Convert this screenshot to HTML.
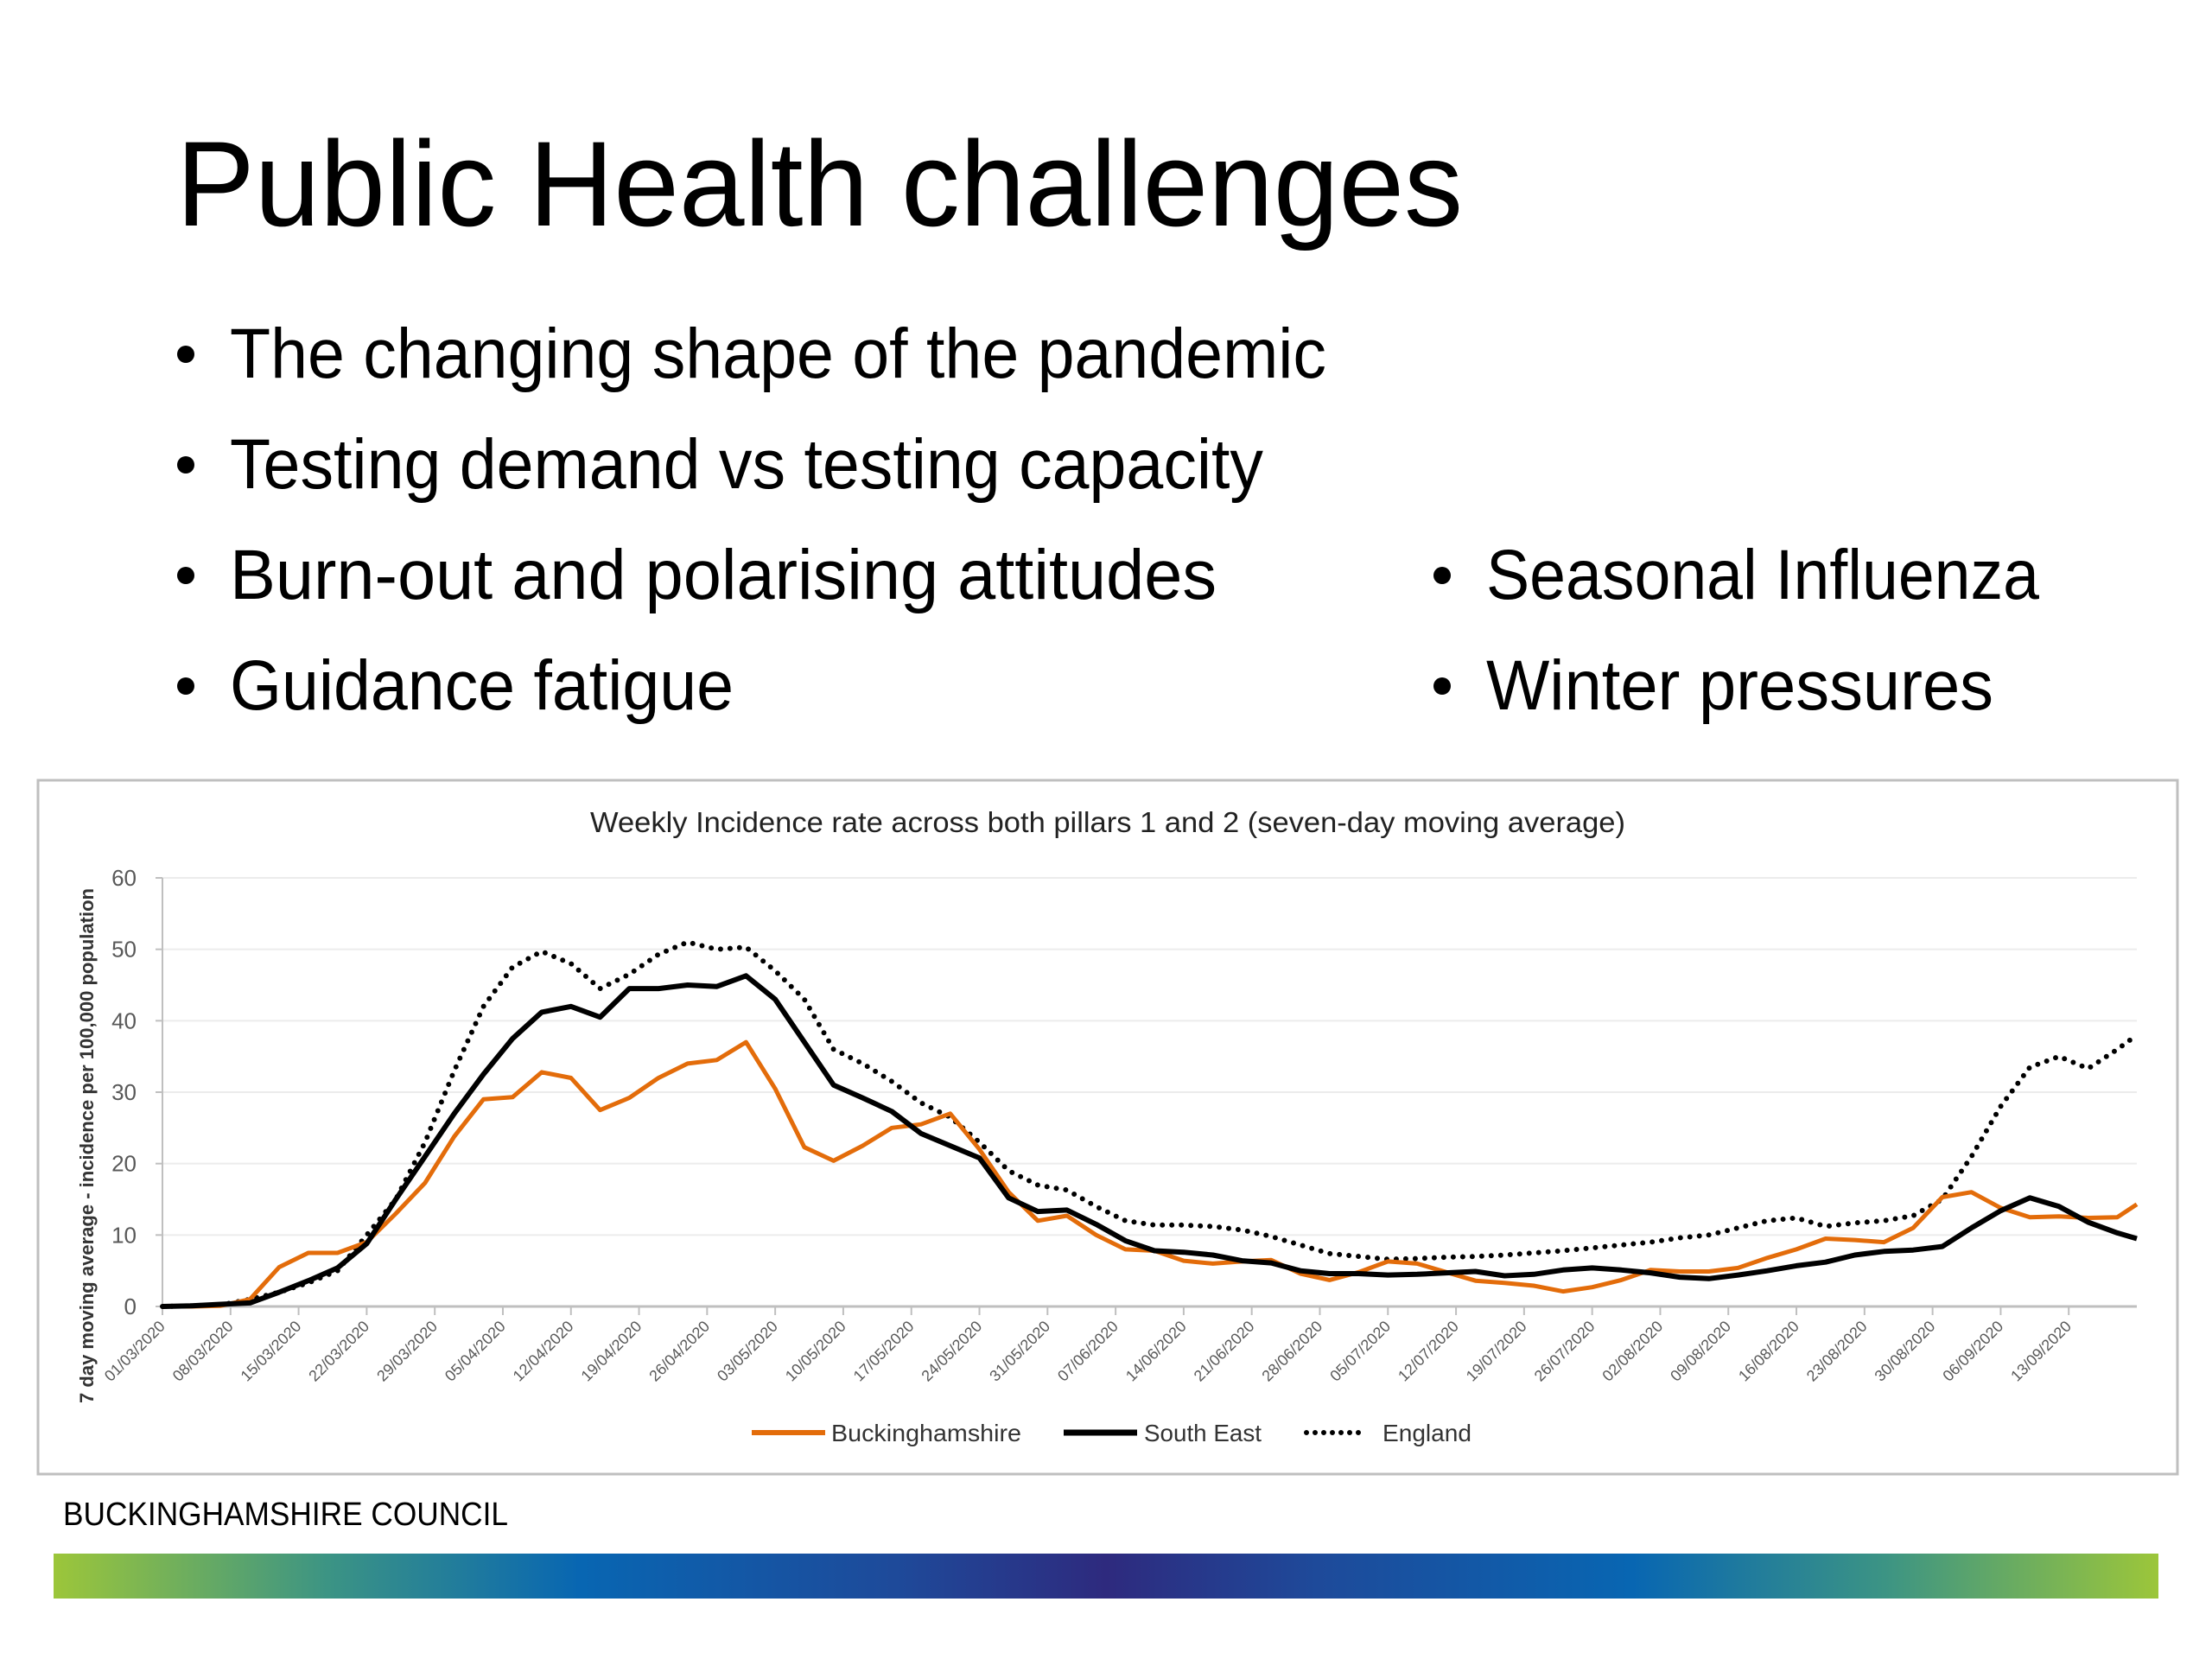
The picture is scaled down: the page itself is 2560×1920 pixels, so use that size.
<!DOCTYPE html>
<html><head><meta charset="utf-8"><title>Public Health challenges</title>
<style>html,body{margin:0;padding:0;background:#fff;}svg{display:block;}</style></head>
<body>
<svg id="slide" xmlns="http://www.w3.org/2000/svg" width="2560" height="1920" viewBox="0 0 2560 1920" font-family="'Liberation Sans', sans-serif">
<defs>
<linearGradient id="bar" x1="0" x2="1" y1="0" y2="0">
<stop offset="0" stop-color="#9cc63a"/><stop offset="0.13" stop-color="#3c9484"/><stop offset="0.25" stop-color="#0866b2"/><stop offset="0.4" stop-color="#1e4a9a"/><stop offset="0.5" stop-color="#2e2a7e"/><stop offset="0.6" stop-color="#1e4a9a"/><stop offset="0.75" stop-color="#0866b2"/><stop offset="0.87" stop-color="#3c9484"/><stop offset="1" stop-color="#9cc63a"/>
</linearGradient>
</defs>
<rect width="2560" height="1920" fill="#fff"/>
<text x="204" y="261" font-size="140" fill="#000" textLength="1489" lengthAdjust="spacingAndGlyphs">Public Health challenges</text>
<g font-size="82" fill="#000">
<circle cx="215" cy="410" r="10"/>
<text x="266" y="437" textLength="1269" lengthAdjust="spacingAndGlyphs">The changing shape of the pandemic</text>
<circle cx="215" cy="538" r="10"/>
<text x="266" y="565" textLength="1196" lengthAdjust="spacingAndGlyphs">Testing demand vs testing capacity</text>
<circle cx="215" cy="666" r="10"/>
<text x="266" y="693" textLength="1142" lengthAdjust="spacingAndGlyphs">Burn-out and polarising attitudes</text>
<circle cx="215" cy="794" r="10"/>
<text x="266" y="821" textLength="583" lengthAdjust="spacingAndGlyphs">Guidance fatigue</text>
</g>
<g font-size="82" fill="#000">
<circle cx="1669" cy="666" r="10"/>
<text x="1720" y="693" textLength="640" lengthAdjust="spacingAndGlyphs">Seasonal Influenza</text>
<circle cx="1669" cy="794" r="10"/>
<text x="1720" y="821" textLength="587" lengthAdjust="spacingAndGlyphs">Winter pressures</text>
</g>
<rect x="44" y="903" width="2476" height="803" fill="#fff" stroke="#bfbfbf" stroke-width="3"/>
<text x="683" y="963" font-size="33" fill="#222" textLength="1198" lengthAdjust="spacingAndGlyphs">Weekly Incidence rate across both pillars 1 and 2 (seven-day moving average)</text>
<text transform="translate(108,1326) rotate(-90)" text-anchor="middle" font-size="22" font-weight="bold" fill="#333" textLength="596" lengthAdjust="spacingAndGlyphs">7 day moving average - incidence per 100,000 population</text>
<g id="plot"></g>
<g font-size="28" fill="#333">
<line x1="870" y1="1658" x2="955" y2="1658" stroke="#e36c0a" stroke-width="6"/>
<text x="962" y="1668" textLength="220" lengthAdjust="spacingAndGlyphs">Buckinghamshire</text>
<line x1="1231" y1="1658" x2="1316" y2="1658" stroke="#000" stroke-width="7"/>
<text x="1324" y="1668" textLength="136" lengthAdjust="spacingAndGlyphs">South East</text>
<line x1="1512" y1="1658" x2="1580" y2="1658" stroke="#000" stroke-width="6" stroke-linecap="round" stroke-dasharray="0 10"/>
<text x="1600" y="1668" textLength="103" lengthAdjust="spacingAndGlyphs">England</text>
</g>
<text x="73" y="1765" font-size="38" fill="#000" textLength="515" lengthAdjust="spacingAndGlyphs">BUCKINGHAMSHIRE COUNCIL</text>
<rect x="62" y="1798" width="2436" height="52" fill="url(#bar)"/>
</svg>
<script>
const days = [0,3,6,9,12,15,18,21,24,27,30,33,36,39,42,45,48,51,54,57,60,63,66,69,72,75,78,81,84,87,90,93,96,99,102,105,108,111,114,117,120,123,126,129,132,135,138,141,144,147,150,153,156,159,162,165,168,171,174,177,180,183,186,189,192,195,198,201,203];
const bucks = [0,0,0.1,1,5.5,7.5,7.5,9,13,17.3,23.8,29,29.3,32.8,32,27.5,29.2,32,34,34.5,37,30.5,22.3,20.4,22.5,25,25.5,27,22,16,12,12.7,10,8,7.8,6.4,6,6.3,6.5,4.6,3.7,4.8,6.3,6,4.8,3.6,3.3,2.9,2.1,2.7,3.7,5.1,4.9,4.9,5.4,6.8,8,9.5,9.3,9,11,15.3,16,13.8,12.5,12.6,12.4,12.5,14.3];
const southEast = [0,0.1,0.3,0.5,2,3.6,5.4,8.8,15,21,27,32.5,37.5,41.2,42,40.5,44.5,44.5,45,44.8,46.3,43,37,31,29.2,27.3,24.2,22.5,20.8,15.2,13.3,13.5,11.5,9.2,7.8,7.6,7.2,6.4,6.1,5,4.6,4.6,4.4,4.5,4.7,4.9,4.3,4.5,5.1,5.4,5.1,4.7,4.1,3.9,4.4,5,5.7,6.2,7.2,7.7,7.9,8.4,11,13.4,15.2,14,11.8,10.3,9.5];
const england = [0,0.1,0.2,1,2,3.3,5,10,15,23,33,42,47.5,49.7,48,44.5,46.5,49.3,51,50,50.3,47,43,36,34,31.5,28.5,26.5,23,19,17,16.3,14,12,11.4,11.4,11.2,10.7,9.8,8.6,7.4,7,6.6,6.7,6.9,7,7.2,7.5,7.8,8.2,8.6,9,9.6,10,11,12,12.4,11.2,11.7,12,12.7,15,21,28,33.5,35,33.3,36,38];
const yTicks = [0,10,20,30,40,50,60];
const xTickLabels = ["01/03/2020","08/03/2020","15/03/2020","22/03/2020","29/03/2020","05/04/2020","12/04/2020","19/04/2020","26/04/2020","03/05/2020","10/05/2020","17/05/2020","24/05/2020","31/05/2020","07/06/2020","14/06/2020","21/06/2020","28/06/2020","05/07/2020","12/07/2020","19/07/2020","26/07/2020","02/08/2020","09/08/2020","16/08/2020","23/08/2020","30/08/2020","06/09/2020","13/09/2020"];

const NS = "http://www.w3.org/2000/svg";
const X0 = 188, X1 = 2473, Y0 = 1512, Y60 = 1016, DMAX = 203;
function xScale(d){ return X0 + (X1 - X0) * d / DMAX; }
function yScale(v){ return Y0 - (Y0 - Y60) * v / 60; }
const plot = document.getElementById('plot');
function mk(tag, attrs){ const e = document.createElementNS(NS, tag); for (const k in attrs) e.setAttribute(k, attrs[k]); return e; }

yTicks.forEach(function(t){
  if (t > 0) {
    const g = mk('line', {x1: X0, x2: X1, y1: yScale(t), y2: yScale(t), stroke: '#ececec', 'stroke-width': 2});
    
    
    plot.appendChild(g);
  }
  const lb = mk('text', {x: 158, y: yScale(t) + 9, 'text-anchor': 'end', 'font-size': 26, fill: '#595959'});
  lb.textContent = t;
  
  
  plot.appendChild(lb);
});
const yAxis = mk('line', {x1: X0, x2: X0, y1: Y60, y2: Y0, stroke: '#bfbfbf', 'stroke-width': 2});


plot.appendChild(yAxis);
for (const t of yTicks) {
  const tk = mk('line', {x1: X0 - 8, x2: X0, y1: yScale(t), y2: yScale(t), stroke: '#bfbfbf', 'stroke-width': 2});
  
  
  plot.appendChild(tk);
}
const xAxis = mk('line', {x1: X0, x2: X1, y1: Y0, y2: Y0, stroke: '#bfbfbf', 'stroke-width': 3});


plot.appendChild(xAxis);
xTickLabels.forEach(function(lbl, i){
  const x = xScale(i * 7);
  const tk = mk('line', {x1: x, x2: x, y1: Y0, y2: Y0 + 10, stroke: '#bfbfbf', 'stroke-width': 2});
  
  
  plot.appendChild(tk);
  const t = mk('text', {transform: 'translate(' + (x + 4) + ',' + (Y0 + 24) + ') rotate(-45)', 'text-anchor': 'end', 'font-size': 18, fill: '#595959'});
  t.textContent = lbl;
  
  
  plot.appendChild(t);
});
function pathFor(vals){ return vals.map(function(v, i){ return (i ? 'L' : 'M') + xScale(days[i]).toFixed(1) + ',' + yScale(v).toFixed(1); }).join(' '); }
const eng = mk('path', {d: pathFor(england), fill: 'none', stroke: '#000', 'stroke-width': 6, 'stroke-linecap': 'round', 'stroke-dasharray': '0 11'});


plot.appendChild(eng);
const bk = mk('path', {d: pathFor(bucks), fill: 'none', stroke: '#e36c0a', 'stroke-width': 5, 'stroke-linejoin': 'round'});


plot.appendChild(bk);
const se = mk('path', {d: pathFor(southEast), fill: 'none', stroke: '#000', 'stroke-width': 6, 'stroke-linejoin': 'round'});


plot.appendChild(se);
</script>
</body></html>
